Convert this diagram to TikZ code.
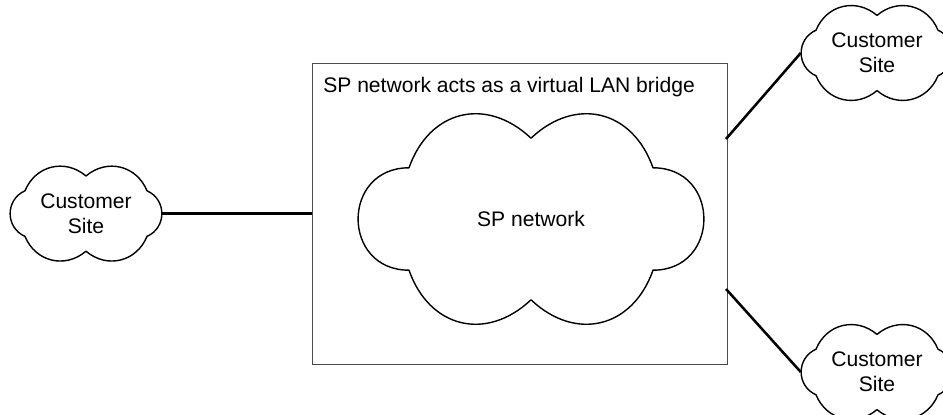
\documentclass[tikz,border=0pt]{standalone}
\usepackage{fontspec}
\setmainfont{Liberation Sans}
\usetikzlibrary{positioning}

\tikzset{
  puff/.style={inner sep=0pt, align=center, font=\fontsize{15}{17.7}\selectfont},
  site/.style={puff, minimum width=3.8cm, minimum height=2.325cm},
  cloudline/.style={line width=1pt, line join=round},
  link/.style={line width=1.8pt}
}
% cloud outline round a node: corner notch x,y; top notch y; side bend, looseness; top bend, looseness
\newcommand{\cloudoutline}[8]{%
  \draw [cloudline, shift={(#1.center)}]
    (0,#4) to[bend right=#7, looseness=#8] (-#2,#3)
    to[bend right=#5, looseness=#6] (-#2,-#3)
    to[bend right=#7, looseness=#8] (0,-#4)
    to[bend right=#7, looseness=#8] (#2,-#3)
    to[bend right=#5, looseness=#6] (#2,#3)
    to[bend right=#7, looseness=#8] (0,#4) -- cycle;}

\begin{document}
\begin{tikzpicture}
  \useasboundingbox (0,0) rectangle (23.575,-10.375);
  % the bridge box and its cloud
  \node [draw=black!70, line width=0.7pt, minimum width=10.375cm, minimum height=7.525cm] (bridge) at (12.99,-5.34) {};
  \node [anchor=base west, inner sep=0pt, font=\fontsize{15}{17.7}\selectfont] (title) at (8.075,-2.325) {SP network acts as a virtual LAN bridge};
  \node [puff, minimum width=8.65cm, minimum height=5.2cm] (sp) at (13.275,-5.475) {SP network};
  \cloudoutline{sp}{3.05}{1.28}{2.02}{90}{1.7}{57}{1.25}
  % customer sites
  \node [site] (siteL) at (2.15,-5.34) {Customer\\Site};
  \node [site] (siteA) at (21.925,-1.325) {Customer\\Site};
  \node [site] (siteB) at (21.925,-9.3) {Customer\\Site};
  \cloudoutline{siteL}{1.525}{0.57}{0.94}{66}{1.22}{54}{1.12}
  \cloudoutline{siteA}{1.525}{0.57}{0.94}{66}{1.22}{54}{1.12}
  \cloudoutline{siteB}{1.525}{0.57}{0.94}{66}{1.22}{54}{1.12}
  \coordinate (outA) at (18.15,-3.475);
  \coordinate (outB) at (18.15,-7.225);
  \draw [link] (siteL.east) -- (bridge.west);
  \draw [link] (outA) -- (siteA.west);
  \draw [link] (outB) -- (siteB.west);
\end{tikzpicture}
\end{document}
